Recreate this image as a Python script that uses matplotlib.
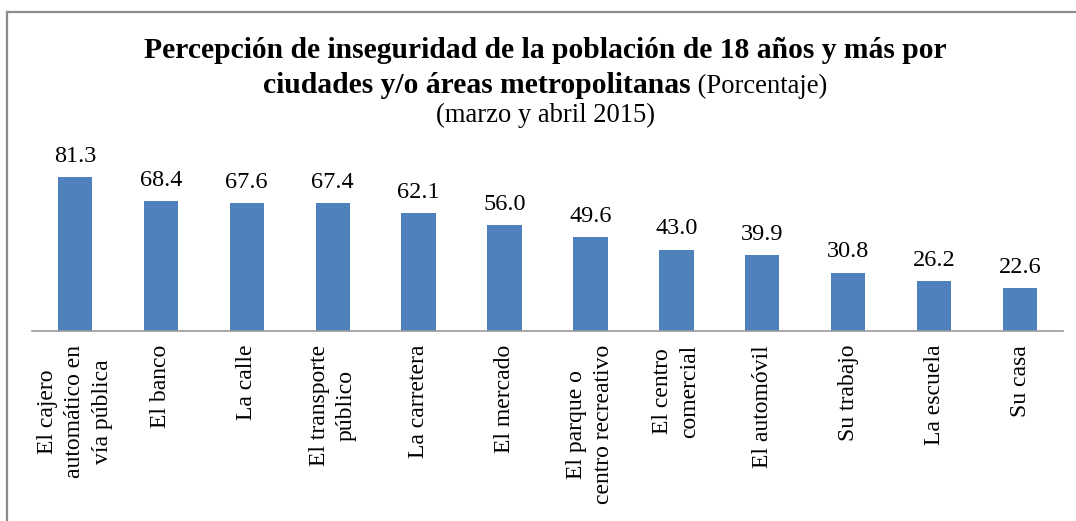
import matplotlib
matplotlib.use("Agg")
import matplotlib.pyplot as plt
from matplotlib.lines import Line2D
import numpy as np

# data
categorias = ["El cajero\nautomático en\nvía pública", "El banco", "La calle",
              "El transporte\npúblico", "La carretera", "El mercado",
              "El parque o\ncentro recreativo", "El centro\ncomercial", "El automóvil",
              "Su trabajo", "La escuela", "Su casa"]
valores = [81.3, 68.4, 67.6, 67.4, 62.1, 56.0, 49.6, 43.0, 39.9, 30.8, 26.2, 22.6]

W, H = 1076, 521
plt.rcParams['font.family'] = ['Liberation Serif', 'DejaVu Serif']

fig = plt.figure(figsize=(W / 100, H / 100), dpi=100)

# outer border (only top and left visible in the original crop)
fig.add_artist(Line2D([7 / W, 7 / W], [0, 1 - 12 / H], color='#8c8c8c', lw=1.6))
fig.add_artist(Line2D([7 / W, 1], [1 - 12 / H, 1 - 12 / H], color='#8c8c8c', lw=1.6))

# plot area in pixels
left, right, base = 32, 1063, 331
ymax = 100
top = base - 189.4
ax = fig.add_axes([left / W, (H - base) / H, (right - left) / W, (base - top) / H])

x = np.arange(len(valores))
bars = ax.bar(x, valores, width=0.4, color='#4F81BD')
ax.bar_label(bars, labels=['%.1f' % v for v in valores], padding=7.5, fontsize=17.5)

ax.set_xlim(-0.5, len(valores) - 0.5)
ax.set_ylim(0, ymax)
ax.set_xticks(x)
ax.set_xticklabels([])
ax.tick_params(axis='x', length=0)
# category labels, rotated, lines centred on each other
for xi, cat in zip(x, categorias):
    ax.annotate(cat, (xi, 0), xycoords=('data', 'axes fraction'),
                xytext=(0, -10), textcoords='offset points',
                rotation=90, fontsize=17, ha='center', va='top',
                multialignment='center', linespacing=1.38)
ax.set_yticks([])
for s in ['top', 'right', 'left']:
    ax.spines[s].set_visible(False)
ax.spines['bottom'].set_color('#9a9a9a')
ax.spines['bottom'].set_linewidth(1.2)

# title, three lines, second one mixes bold and regular
fsb, fsn = 21.3, 19.2
cx = 545 / W
fig.text(cx, 1 - 58 / H, "Percepción de inseguridad de la población de 18 años y más por",
         ha='center', va='baseline', fontsize=fsb, fontweight='bold')
t_bold = fig.text(0, 1 - 93 / H, "ciudades y/o áreas metropolitanas",
                  ha='left', va='baseline', fontsize=fsb, fontweight='bold')
t_norm = fig.text(0, 1 - 93 / H, " (Porcentaje)", ha='left', va='baseline', fontsize=fsn)
r = fig.canvas.get_renderer()
wb = t_bold.get_window_extent(r).width
wn = t_norm.get_window_extent(r).width
x0 = cx * W - (wb + wn) / 2
t_bold.set_x(x0 / W)
t_norm.set_x((x0 + wb) / W)
fig.text(cx, 1 - 122 / H, "(marzo y abril 2015)", ha='center', va='baseline', fontsize=fsn)

fig.savefig("out.png", dpi=100)
